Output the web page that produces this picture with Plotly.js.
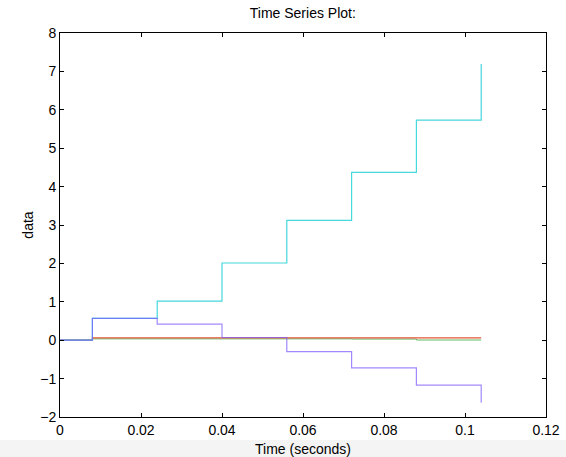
<!DOCTYPE html>
<html>
<head>
<meta charset="utf-8">
<script src="https://cdn.plot.ly/plotly-3.0.1.min.js"></script>
<style>html,body{margin:0;padding:0;background:#fff;}#chart{width:566px;height:457px;}</style>
</head>
<body>
<div id="chart"></div>
<script>
const time = [0, 0.008, 0.024, 0.040, 0.056, 0.072, 0.088, 0.104];
const seriesCyan = [0, 0.57, 1.02, 2.01, 3.12, 4.37, 5.73, 7.19];
const seriesPurple = [0, 0.57, 0.42, 0.07, -0.30, -0.72, -1.17, -1.63];
const seriesGreen = [0, 0.035, 0.035, 0.035, 0.035, 0.03, 0.005, 0.005];
const seriesRed = [0, 0.06, 0.06, 0.06, 0.06, 0.06, 0.06, 0.06];
const xTicks = [0, 0.02, 0.04, 0.06, 0.08, 0.1, 0.12];
const xTickText = ['0', '0.02', '0.04', '0.06', '0.08', '0.1', '0.12'];
const yTicks = [-2, -1, 0, 1, 2, 3, 4, 5, 6, 7, 8];
const yTickText = ['\u22122', '\u22121', '0', '1', '2', '3', '4', '5', '6', '7', '8'];

function tr(y, color, op, w) {
  return {x: time, y: y, type: 'scatter', mode: 'lines', opacity: op,
    line: {shape: 'hv', color: color, width: w}, hoverinfo: 'skip'};
}
const data = [
  tr(seriesGreen, '#3aa83a', 0.8, 1),
  tr(seriesRed, '#e4553a', 1, 1.3),
  tr(seriesCyan, '#45d8dc', 1, 1.2),
  tr(seriesPurple, '#7a55ff', 0.7, 1.2)
];
const font = 'Liberation Sans, Arial, sans-serif';
const axisCommon = {
  showline: true, mirror: 'ticks', linecolor: '#000', linewidth: 1,
  ticks: 'inside', ticklen: 4, tickcolor: '#000', showgrid: false, zeroline: false,
  tickfont: {family: font, size: 14, color: '#000'}
};
const layout = {
  width: 566, height: 457,
  margin: {l: 60, r: 20, t: 33, b: 40},
  paper_bgcolor: '#fff', plot_bgcolor: '#fff',
  showlegend: false,
  shapes: [{type: 'rect', xref: 'paper', yref: 'paper', x0: -0.2, x1: 1.1, y0: -0.06, y1: -0.11,
    fillcolor: '#f4f4f4', line: {width: 0}, layer: 'below'}],
  title: {text: 'Time Series Plot:', x: 0.535, xanchor: 'center', y: 0.972, yanchor: 'middle',
    font: {family: font, size: 14, color: '#000'}},
  xaxis: Object.assign({}, axisCommon, {
    range: [0, 0.12], tickvals: xTicks, ticktext: xTickText,
    title: {text: 'Time (seconds)', standoff: 9, font: {family: font, size: 14, color: '#000'}}
  }),
  yaxis: Object.assign({}, axisCommon, {
    range: [-2, 8], tickvals: yTicks, ticktext: yTickText,
    title: {text: 'data', standoff: 3, font: {family: font, size: 14, color: '#000'}}
  })
};
Plotly.newPlot('chart', data, layout, {displayModeBar: false, staticPlot: true});
</script>
</body>
</html>
